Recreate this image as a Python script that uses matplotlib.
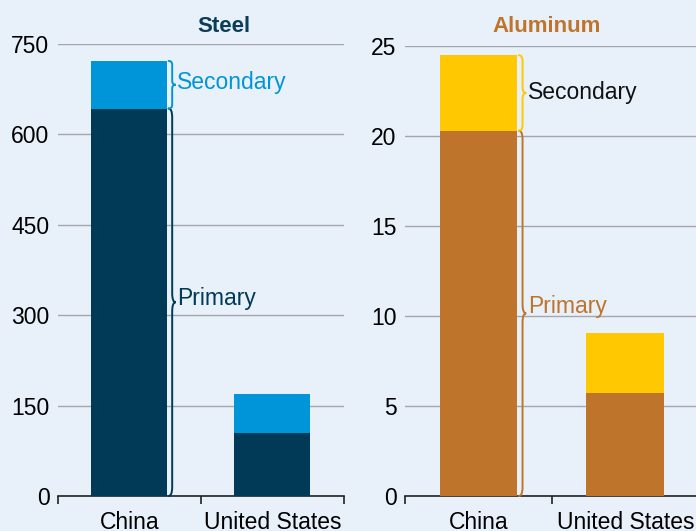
import matplotlib
matplotlib.use('Agg')
import matplotlib.pyplot as plt
from matplotlib.path import Path
from matplotlib.patches import PathPatch

plt.rcParams['font.family'] = ['Liberation Sans', 'DejaVu Sans']

# ---- data ----
countries = ['China', 'United States']
steel_primary = [643, 105]
steel_secondary = [79, 65]
alu_primary = [20.3, 5.7]
alu_secondary = [4.2, 3.35]

BG = '#E8F0FA'
GRID = '#A3A7AB'
C_STEEL_P = '#003A57'; C_STEEL_S = '#0095D9'
C_ALU_P = '#BE742A'; C_ALU_S = '#FFC800'
BW = 0.53
FS = 16.5


def brace(ax, x, y0, y1, w, color, lw=1.4):
    # curly brace opening to the left, tip pointing right
    ym = (y0 + y1) / 2.0
    d = min((y1 - y0) * 0.08, (ax.get_ylim()[1] - ax.get_ylim()[0]) * 0.02)
    h = x + w * 0.5
    verts = [(x, y0), (h, y0), (h, y0 + d),
             (h, ym - d),
             (h, ym), (x + w, ym),
             (h, ym), (h, ym + d),
             (h, y1 - d),
             (h, y1), (x, y1)]
    codes = [Path.MOVETO, Path.CURVE3, Path.CURVE3,
             Path.LINETO,
             Path.CURVE3, Path.CURVE3,
             Path.CURVE3, Path.CURVE3,
             Path.LINETO,
             Path.CURVE3, Path.CURVE3]
    ax.add_patch(PathPatch(Path(verts, codes), fill=False, edgecolor=color, lw=lw,
                           capstyle='round', zorder=5, clip_on=False))


def panel(ax, prim, sec, cp, cs, ymax, step):
    x = range(len(countries))
    ax.set_facecolor(BG)
    ax.bar(x, prim, width=BW, color=cp, zorder=3)
    ax.bar(x, sec, bottom=prim, width=BW, color=cs, zorder=3)
    ax.set_xlim(-0.5, 1.5)
    ax.set_ylim(0, ymax)
    ax.set_yticks([i * step for i in range(6)])
    ax.yaxis.grid(True, color=GRID, lw=1.0, zorder=0)
    ax.tick_params(axis='y', length=0, labelsize=FS, pad=6)
    ax.set_xticks([0, 1])
    ax.set_xticklabels(countries, fontsize=FS)
    ax.set_xticks([-0.5, 0.5, 1.5], minor=True)
    ax.tick_params(axis='x', which='major', length=0, pad=11)
    ax.tick_params(axis='x', which='minor', length=6, width=1.2, color='#222222')
    for sp in ['top', 'right', 'left']:
        ax.spines[sp].set_visible(False)
    ax.spines['bottom'].set_color('#222222')
    ax.spines['bottom'].set_linewidth(1.2)


fig = plt.figure(figsize=(6.96, 5.31), dpi=100)
fig.patch.set_facecolor(BG)

axL = fig.add_axes([0.083, 0.066, 0.411, 0.851])
panel(axL, steel_primary, steel_secondary, C_STEEL_P, C_STEEL_S, 750, 150)
axR = fig.add_axes([0.582, 0.066, 0.422, 0.847])
panel(axR, alu_primary, alu_secondary, C_ALU_P, C_ALU_S, 25, 5)

xb = BW / 2 + 0.01
brace(axL, xb, 0, steel_primary[0], 0.05, C_STEEL_P)
brace(axL, xb, steel_primary[0], steel_primary[0] + steel_secondary[0], 0.05, C_STEEL_S)
axL.text(xb + 0.06, steel_primary[0] / 2 + 6, 'Primary', color=C_STEEL_P, fontsize=FS, va='center')
axL.text(xb + 0.06, steel_primary[0] + steel_secondary[0] / 2 + 4, 'Secondary', color=C_STEEL_S,
         fontsize=FS, va='center')

brace(axR, xb, 0, alu_primary[0], 0.05, C_ALU_P)
brace(axR, xb, alu_primary[0], alu_primary[0] + alu_secondary[0], 0.05, C_ALU_S)
axR.text(xb + 0.06, alu_primary[0] / 2 + 0.4, 'Primary', color=C_ALU_P, fontsize=FS, va='center')
axR.text(xb + 0.06, alu_primary[0] + alu_secondary[0] / 2, 'Secondary', color='#111111',
         fontsize=FS, va='center')

fig.text(0.322, 0.951, 'Steel', color='#0B3D58', fontsize=16, fontweight='bold', ha='center', va='center')
fig.text(0.786, 0.951, 'Aluminum', color=C_ALU_P, fontsize=16, fontweight='bold', ha='center', va='center')

fig.savefig('out.png', dpi=100, facecolor=BG)
